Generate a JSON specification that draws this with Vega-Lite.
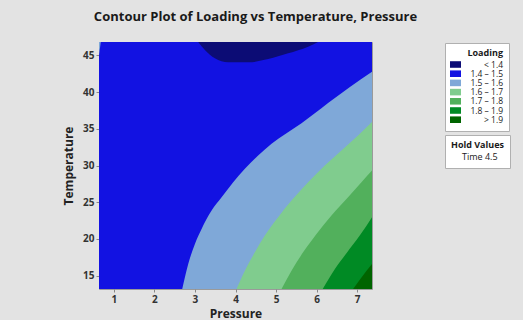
{
  "$schema": "https://vega.github.io/schema/vega-lite/v6.json",
  "width": 273,
  "height": 247,
  "autosize": "none",
  "padding": {"left": 99, "top": 42, "right": 151, "bottom": 31},
  "background": "#e3e3e3",
  "config": {
    "view": {"stroke": "#9a9a9a", "strokeWidth": 1},
    "font": "Open Sans"
  },
  "title": {
    "text": "Contour Plot of Loading vs Temperature, Pressure",
    "fontSize": 13,
    "fontWeight": "bold",
    "font": "Open Sans",
    "color": "#1a1a1a",
    "anchor": "middle",
    "dx": 20,
    "offset": 18
  },
  "data": {
    "values": [
      {"level": "1.4 – 1.5", "p": 0.636, "t": 46.82},
      {"level": "1.4 – 1.5", "p": 7.364, "t": 46.82},

      {"level": "1.5 – 1.6", "p": 2.687, "t": 13.18},
      {"level": "1.5 – 1.6", "p": 2.835, "t": 16.59},
      {"level": "1.5 – 1.6", "p": 3.0, "t": 19.32},
      {"level": "1.5 – 1.6", "p": 3.164, "t": 21.36},
      {"level": "1.5 – 1.6", "p": 3.411, "t": 23.86},
      {"level": "1.5 – 1.6", "p": 3.657, "t": 25.67},
      {"level": "1.5 – 1.6", "p": 3.943, "t": 27.72},
      {"level": "1.5 – 1.6", "p": 4.231, "t": 29.55},
      {"level": "1.5 – 1.6", "p": 4.558, "t": 31.36},
      {"level": "1.5 – 1.6", "p": 4.888, "t": 32.96},
      {"level": "1.5 – 1.6", "p": 5.257, "t": 34.4},
      {"level": "1.5 – 1.6", "p": 5.627, "t": 35.75},
      {"level": "1.5 – 1.6", "p": 5.954, "t": 37.1},
      {"level": "1.5 – 1.6", "p": 6.281, "t": 38.5},
      {"level": "1.5 – 1.6", "p": 6.82, "t": 40.7},
      {"level": "1.5 – 1.6", "p": 7.364, "t": 42.78},

      {"level": "1.6 – 1.7", "p": 4.026, "t": 13.18},
      {"level": "1.6 – 1.7", "p": 4.231, "t": 15.67},
      {"level": "1.6 – 1.7", "p": 4.477, "t": 18.17},
      {"level": "1.6 – 1.7", "p": 4.723, "t": 20.45},
      {"level": "1.6 – 1.7", "p": 5.05, "t": 22.95},
      {"level": "1.6 – 1.7", "p": 5.38, "t": 25.22},
      {"level": "1.6 – 1.7", "p": 5.789, "t": 27.72},
      {"level": "1.6 – 1.7", "p": 6.2, "t": 30.0},
      {"level": "1.6 – 1.7", "p": 6.611, "t": 32.04},
      {"level": "1.6 – 1.7", "p": 7.02, "t": 34.09},
      {"level": "1.6 – 1.7", "p": 7.364, "t": 35.91},

      {"level": "1.7 – 1.8", "p": 5.134, "t": 13.18},
      {"level": "1.7 – 1.8", "p": 5.38, "t": 15.67},
      {"level": "1.7 – 1.8", "p": 5.666, "t": 18.17},
      {"level": "1.7 – 1.8", "p": 5.996, "t": 20.68},
      {"level": "1.7 – 1.8", "p": 6.365, "t": 23.18},
      {"level": "1.7 – 1.8", "p": 6.774, "t": 25.67},
      {"level": "1.7 – 1.8", "p": 7.104, "t": 27.72},
      {"level": "1.7 – 1.8", "p": 7.364, "t": 29.32},

      {"level": "1.8 – 1.9", "p": 6.15, "t": 13.18},
      {"level": "1.8 – 1.9", "p": 6.45, "t": 15.9},
      {"level": "1.8 – 1.9", "p": 6.74, "t": 18.1},
      {"level": "1.8 – 1.9", "p": 7.062, "t": 20.45},
      {"level": "1.8 – 1.9", "p": 7.364, "t": 22.95},

      {"level": "> 1.9", "p": 6.897, "t": 13.18},
      {"level": "> 1.9", "p": 7.104, "t": 14.76},
      {"level": "> 1.9", "p": 7.364, "t": 16.59},

      {"level": "< 1.4", "p": 3.081, "t": 46.82},
      {"level": "< 1.4", "p": 3.246, "t": 45.73},
      {"level": "< 1.4", "p": 3.492, "t": 44.6},
      {"level": "< 1.4", "p": 3.819, "t": 44.05},
      {"level": "< 1.4", "p": 4.312, "t": 44.05},
      {"level": "< 1.4", "p": 4.804, "t": 44.5},
      {"level": "< 1.4", "p": 5.297, "t": 45.28},
      {"level": "< 1.4", "p": 5.789, "t": 46.19},
      {"level": "< 1.4", "p": 6.035, "t": 46.82},

      {"level": "corner", "p": 0.636, "t": 45.0},
      {"level": "corner", "p": 0.68, "t": 46.82}
    ]
  },
  "encoding": {
    "x": {
      "field": "p",
      "type": "quantitative",
      "scale": {"domain": [0.636, 7.364], "nice": false, "zero": false},
      "axis": {
        "title": "Pressure",
        "values": [1, 2, 3, 4, 5, 6, 7],
        "grid": false,
        "domain": false,
        "tickSize": 3,
        "tickColor": "#888888",
        "labelFontSize": 10,
        "labelColor": "#333333",
        "labelFont": "Open Sans",
        "labelFontWeight": "bold",
        "labelPadding": 2,
        "titleFontSize": 12,
        "titleFont": "Open Sans",
        "titleFontWeight": "bold",
        "titleColor": "#222222",
        "titlePadding": 4
      }
    },
    "y": {
      "field": "t",
      "type": "quantitative",
      "scale": {"domain": [13.18, 46.82], "nice": false, "zero": false},
      "axis": {
        "title": "Temperature",
        "values": [15, 20, 25, 30, 35, 40, 45],
        "grid": false,
        "domain": false,
        "tickSize": 3,
        "tickColor": "#888888",
        "labelFontSize": 10,
        "labelColor": "#333333",
        "labelFont": "Open Sans",
        "labelFontWeight": "bold",
        "labelPadding": 2,
        "titleFontSize": 12,
        "titleFont": "Open Sans",
        "titleFontWeight": "bold",
        "titleColor": "#222222",
        "titlePadding": 7
      }
    }
  },
  "layer": [
    {
      "transform": [{"filter": "datum.level == '1.4 – 1.5'"}],
      "mark": {"type": "area", "clip": true, "opacity": 1},
      "encoding": {
        "y2": {"datum": 13.18},
        "color": {
          "field": "level",
          "type": "nominal",
          "scale": {
            "domain": ["< 1.4", "1.4 – 1.5", "1.5 – 1.6", "1.6 – 1.7", "1.7 – 1.8", "1.8 – 1.9", "> 1.9"],
            "range": ["#0c0c75", "#1212e2", "#7fa8d8", "#80cc8e", "#52b05c", "#008a24", "#006400"]
          },
          "legend": {
            "title": "Loading",
            "orient": "none",
            "legendX": 346,
            "legendY": 1,
            "fillColor": "white",
            "strokeColor": "#b0b0b0",
            "padding": 6,
            "titleFont": "Open Sans",
            "titleFontSize": 9,
            "titleFontWeight": "bold",
            "titleColor": "#1a1a1a",
            "titleAnchor": "end",
            "titlePadding": 2,
            "labelFont": "Open Sans",
            "labelFontSize": 8.5,
            "labelColor": "#1a1a1a",
            "labelAlign": "right",
            "labelOffset": 43,
            "symbolType": "M-1.22,-0.73H1.22V0.73H-1.22Z",
            "symbolSize": 81,
            "symbolStrokeWidth": 0,
            "symbolOpacity": 1,
            "rowPadding": 0.2
          }
        }
      }
    },
    {
      "transform": [{"filter": "datum.level == '1.5 – 1.6'"}],
      "mark": {"type": "area", "clip": true, "interpolate": "monotone", "opacity": 1},
      "encoding": {"y2": {"datum": 13.18}, "color": {"field": "level", "type": "nominal"}}
    },
    {
      "transform": [{"filter": "datum.level == '1.6 – 1.7'"}],
      "mark": {"type": "area", "clip": true, "interpolate": "monotone", "opacity": 1},
      "encoding": {"y2": {"datum": 13.18}, "color": {"field": "level", "type": "nominal"}}
    },
    {
      "transform": [{"filter": "datum.level == '1.7 – 1.8'"}],
      "mark": {"type": "area", "clip": true, "interpolate": "monotone", "opacity": 1},
      "encoding": {"y2": {"datum": 13.18}, "color": {"field": "level", "type": "nominal"}}
    },
    {
      "transform": [{"filter": "datum.level == '1.8 – 1.9'"}],
      "mark": {"type": "area", "clip": true, "interpolate": "monotone", "opacity": 1},
      "encoding": {"y2": {"datum": 13.18}, "color": {"field": "level", "type": "nominal"}}
    },
    {
      "transform": [{"filter": "datum.level == '> 1.9'"}],
      "mark": {"type": "area", "clip": true, "interpolate": "monotone", "opacity": 1},
      "encoding": {"y2": {"datum": 13.18}, "color": {"field": "level", "type": "nominal"}}
    },
    {
      "transform": [{"filter": "datum.level == '< 1.4'"}],
      "mark": {"type": "area", "clip": true, "interpolate": "monotone", "opacity": 1},
      "encoding": {"y2": {"datum": 46.82}, "color": {"field": "level", "type": "nominal"}}
    },
    {
      "transform": [{"filter": "datum.level == 'corner'"}],
      "mark": {"type": "area", "clip": true, "opacity": 1, "color": "#7fa8d8"},
      "encoding": {"y2": {"datum": 46.82}}
    },
    {
      "data": {"values": [{"hold": "Time 4.5"}]},
      "mark": {"type": "point", "size": 30, "clip": true, "filled": true, "opacity": 1, "color": "#1212e2"},
      "encoding": {
        "x": {"datum": 20},
        "y": {"datum": 30},
        "shape": {
          "field": "hold",
          "type": "nominal",
          "scale": {"domain": ["Time 4.5"], "range": ["square"]},
          "legend": {
            "title": "Hold Values",
            "values": ["Time 4.5"],
            "orient": "none",
            "legendX": 346,
            "legendY": 93,
            "fillColor": "white",
            "strokeColor": "#b0b0b0",
            "padding": 6,
            "titleFont": "Open Sans",
            "titleFontSize": 9,
            "titleFontWeight": "bold",
            "titleColor": "#1a1a1a",
            "titleAnchor": "start",
            "titlePadding": 2,
            "labelFont": "Open Sans",
            "labelFontSize": 9,
            "labelColor": "#1a1a1a",
            "labelOffset": 2,
            "symbolSize": 36,
            "symbolOpacity": 0,
            "symbolStrokeWidth": 0
          }
        }
      }
    }
  ]
}
